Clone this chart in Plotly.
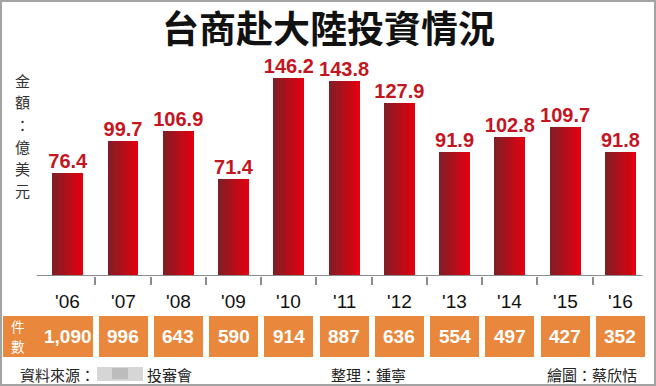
import plotly.graph_objects as go

# ---------------- data ----------------
years = ["'06", "'07", "'08", "'09", "'10", "'11", "'12", "'13", "'14", "'15", "'16"]
amounts = [76.4, 99.7, 106.9, 71.4, 146.2, 143.8, 127.9, 91.9, 102.8, 109.7, 91.8]
counts = [1090, 996, 643, 590, 914, 887, 636, 554, 497, 427, 352]

title_text = "台商赴大陸投資情況"
ylabel_chars = ["金", "額", "：", "億", "美", "元"]
count_chars = ["件", "數"]
footer_left = "資料來源："
footer_left2 = "投審會"
footer_mid = "整理：鍾寧"
footer_right = "繪圖：蔡欣恬"

# ---------------- layout geometry ----------------
W, H = 656, 386
ML, MR, MT, MB = 2, 8, 50, 28
PW, PH = W - ML - MR, H - MT - MB
BASE_PX = 276       # baseline of bars
TOP_PX = MT
TAB_TOP, TAB_BOT = 316, 357

def px_x(p):
    return (p - ML) / PW

def px_y(p):
    return (H - MB - p) / PH

XR = [-1.19, 10.5]
pitch = PW / (XR[1] - XR[0])
ymax = 146.2 * (BASE_PX - TOP_PX) / (BASE_PX - 78)

xs = list(range(len(years)))
CJK = "Noto Sans CJK TC, Noto Sans CJK SC, sans-serif"
LAT = "Liberation Sans, Arial, sans-serif"

fig = go.Figure()

# gradient bars: overlaid slices, each extending to the right edge
BW = 0.56
N = 18
c0 = (0x80, 0x1e, 0x26)
c1 = (0xe4, 0x00, 0x10)
for k in range(N):
    t = k / (N - 1)
    col = tuple(round(c0[j] + (c1[j] - c0[j]) * t) for j in range(3))
    off = -BW / 2 + k * BW / N
    fig.add_trace(go.Bar(
        x=xs, y=amounts, width=BW - k * BW / N, offset=off,
        marker=dict(color="rgb(%d,%d,%d)" % col, line=dict(width=0)),
        hoverinfo="skip", showlegend=False, xaxis="x", yaxis="y",
    ))

# value labels
fig.add_trace(go.Scatter(
    x=xs, y=amounts, mode="text", text=[f"{v:.1f}" for v in amounts],
    textposition="top center",
    textfont=dict(family=LAT, size=20, color="#c4161f", weight="bold"),
    hoverinfo="skip", showlegend=False, cliponaxis=False,
))

# table boxes (orange) on second y axis
box_w = 49 / pitch
widths = [box_w] * len(xs)
offsets = [-box_w / 2] * len(xs)
first_left = XR[0] + 0.01
first_right = (93 - (ML + (0 - XR[0]) * pitch)) / pitch
widths[0] = first_right - first_left
offsets[0] = first_left
fig.add_trace(go.Bar(
    x=xs, y=[1] * len(xs), width=widths, offset=offsets,
    marker=dict(color="#e9883c", line=dict(width=0)),
    hoverinfo="skip", showlegend=False, xaxis="x", yaxis="y2",
))

annotations = []
# count labels
for x, c in zip(xs, counts):
    annotations.append(dict(
        x=x, y=0.5, xref="x", yref="y2", text=f"{c:,}", showarrow=False,
        font=dict(family=LAT, size=19, color="white", weight="bold"),
        xanchor="center", yanchor="middle",
    ))
# 件數 label (stacked)
for i, ch in enumerate(count_chars):
    annotations.append(dict(
        x=px_x(18), y=px_y(326 + 20 * i), xref="paper", yref="paper", text=ch,
        showarrow=False, font=dict(family=CJK, size=13.5, color="white"),
        xanchor="center", yanchor="middle",
    ))
# year labels
for x, yl in zip(xs, years):
    annotations.append(dict(
        x=x, y=0, xref="x", yref="y", text=yl, showarrow=False,
        font=dict(family=LAT, size=19, color="#111111"),
        xanchor="center", yanchor="middle", yshift=-25,
    ))
# y label vertical, one character per line
for i, ch in enumerate(ylabel_chars):
    annotations.append(dict(
        x=px_x(22), y=px_y(80 + 22 * i), xref="paper", yref="paper", text=ch,
        showarrow=False, font=dict(family=CJK, size=15, color="#333333"),
        xanchor="center", yanchor="middle",
    ))
# title
annotations.append(dict(
    x=px_x(328), y=px_y(27), xref="paper", yref="paper", text=title_text,
    showarrow=False, font=dict(family=CJK, size=37, color="#111111", weight="bold"),
    xanchor="center", yanchor="middle",
))
# footer
annotations += [
    dict(x=px_x(18), y=px_y(374), xref="paper", yref="paper", text=footer_left,
         showarrow=False, font=dict(family=CJK, size=15, color="#222222"),
         xanchor="left", yanchor="middle"),
    dict(x=px_x(145), y=px_y(374), xref="paper", yref="paper", text=footer_left2,
         showarrow=False, font=dict(family=CJK, size=15, color="#222222"),
         xanchor="left", yanchor="middle"),
    dict(x=px_x(329), y=px_y(374), xref="paper", yref="paper", text=footer_mid,
         showarrow=False, font=dict(family=CJK, size=15, color="#222222"),
         xanchor="left", yanchor="middle"),
    dict(x=px_x(639), y=px_y(374), xref="paper", yref="paper", text=footer_right,
         showarrow=False, font=dict(family=CJK, size=15, color="#222222"),
         xanchor="right", yanchor="middle"),
]

shapes = [
    # axis line
    dict(type="line", xref="x", yref="y", x0=-0.56, x1=10.4, y0=0, y1=0,
         line=dict(color="#8c8c8c", width=2)),
    # blurred source block
    dict(type="rect", xref="paper", yref="paper", x0=px_x(97), x1=px_x(143),
         y0=px_y(381), y1=px_y(367), fillcolor="#d6d6d6", line=dict(width=0), layer="above"),
    dict(type="rect", xref="paper", yref="paper", x0=px_x(112), x1=px_x(128),
         y0=px_y(379), y1=px_y(368), fillcolor="#bcbcbc", line=dict(width=0), layer="above"),
    # outer frame
    dict(type="rect", xref="paper", yref="paper", x0=px_x(1), x1=px_x(655),
         y0=px_y(385), y1=px_y(1), line=dict(color="#a3a3a3", width=2), layer="above"),
]

fig.update_layout(
    width=W, height=H, margin=dict(l=ML, r=MR, t=MT, b=MB),
    paper_bgcolor="white", plot_bgcolor="white",
    barmode="overlay", bargap=0, showlegend=False,
    xaxis=dict(range=XR, tickvals=[i + 0.5 for i in range(len(xs) - 1)],
               ticks="outside", ticklen=8, tickwidth=2, tickcolor="#8c8c8c",
               showticklabels=False, showgrid=False, zeroline=False, showline=False,
               anchor="y", fixedrange=True),
    yaxis=dict(domain=[px_y(BASE_PX), 1], range=[0, ymax], visible=False,
               showgrid=False, fixedrange=True),
    yaxis2=dict(domain=[px_y(TAB_BOT), px_y(TAB_TOP)], range=[0, 1], visible=False,
                showgrid=False, anchor="x", fixedrange=True),
    annotations=annotations, shapes=shapes,
)

fig.write_html(
    "out.html",
    config={"displayModeBar": False},
    post_script="document.body.style.margin='0';document.body.style.overflow='hidden';",
)
